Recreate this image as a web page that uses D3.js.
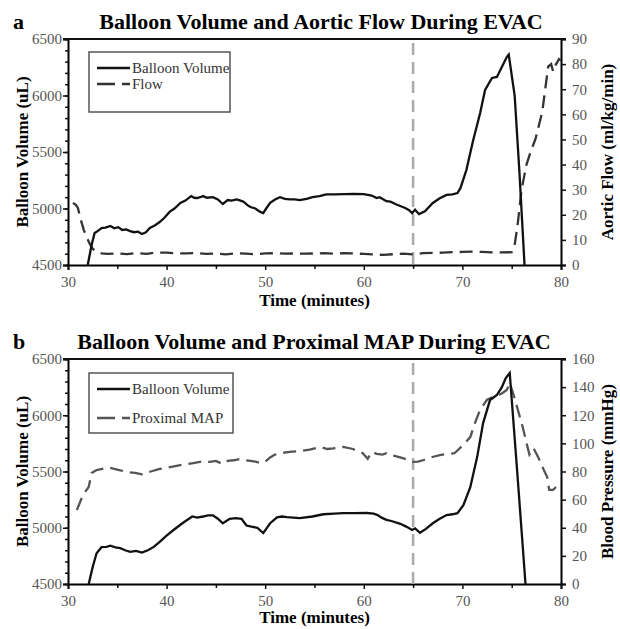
<!DOCTYPE html>
<html lang="en">
<head>
<meta charset="UTF-8">
<title>Balloon Volume during EVAC</title>
<script src="https://cdn.jsdelivr.net/npm/d3@7"></script>
<style>
	body { margin: 0; background: #fff; }
	svg { display: block; }
	svg text { font-family: "Liberation Serif", "Times New Roman", serif; }
</style>
</head>
<body>
<svg id="chart" width="620" height="629"></svg>
<script>
// panel a: balloon volume (uL)
var volATime = [32.0,32.4,32.7,33.0,33.4,33.8,34.3,34.7,35.1,35.5,35.9,36.3,36.7,37.1,37.5,37.9,38.3,38.8,39.3,39.8,40.3,40.8,41.4,41.9,42.5,42.8,43.1,43.4,43.7,44.1,44.7,45.2,45.7,46.2,46.6,47.1,47.5,47.8,48.2,48.5,49.0,49.5,49.8,50.1,50.5,51.0,51.5,52.0,52.5,53.0,53.5,54.2,54.8,55.5,56.2,57.0,58.0,59.0,60.0,60.8,61.3,61.6,62.0,62.3,62.7,63.2,63.7,64.2,64.6,64.9,65.2,65.6,66.2,67.0,67.7,68.4,69.0,69.5,69.8,70.4,71.1,71.8,72.3,73.0,73.5,74.0,74.5,74.7,75.3,75.8,76.3];
var volA     = [4500,4680,4783,4800,4827,4830,4845,4825,4835,4810,4815,4800,4790,4795,4774,4790,4827,4850,4880,4920,4970,5000,5050,5070,5110,5095,5093,5100,5110,5095,5100,5080,5040,5075,5070,5080,5070,5060,5030,5013,5000,4970,4960,5000,5050,5080,5100,5085,5080,5080,5075,5085,5100,5110,5125,5125,5128,5130,5128,5115,5093,5100,5080,5065,5060,5040,5022,5005,4985,4960,4990,4950,4975,5049,5090,5120,5125,5137,5180,5340,5606,5845,6049,6155,6164,6252,6340,6362,6000,5300,4500];

// panel a: aortic flow (ml/kg/min)
var flowTime = [30.5,30.8,31.0,31.3,31.6,31.9,32.2,32.5,32.9,33.4,34,35,36,37,38,39,40,41,42,43,44,45,46,47,48,49,50,51,52,53,54,55,56,57,58,59,60,61,62,63,64,65,66,67,68,69,70,71,72,73,74,75,75.3,75.6,76.0,76.5,77.0,77.4,78.1,78.7,79.0,79.2,79.5,79.8,80.0];
var flow     = [24.7,24,22.7,18,14,11,8.5,6.5,5.2,4.6,4.4,4.6,4.3,4.8,4.4,5.0,4.9,4.7,4.6,4.8,4.4,4.6,4.2,4.7,4.5,4.3,4.6,4.7,4.5,4.6,4.5,4.6,4.7,4.5,4.7,4.6,4.4,4.2,4.0,4.3,4.5,4.2,4.7,4.8,4.9,5.1,5.2,5.3,5.2,5.0,5.0,5.1,8,16,30,40,46,50,61,79,80,77,80,82,81.5];

// panel b: balloon volume (uL)
var volBTime = [32.1,32.5,32.9,33.4,33.9,34.3,34.8,35.3,35.8,36.3,36.9,37.5,38.1,38.7,39.3,40.0,40.7,41.6,42.6,43.1,43.7,44.2,44.7,45.2,45.7,46.4,47.0,47.6,48.1,48.6,49.2,49.8,50.5,51.2,51.7,52.2,53.5,54.8,55.9,57.0,57.9,59.0,60.3,61.0,61.4,61.8,62.3,62.8,63.7,64.3,64.9,65.2,65.7,66.3,67.0,67.7,68.4,69.0,69.5,70.1,70.8,71.5,72.1,72.8,73.5,74.0,74.4,74.8,75.6,76.4];
var volB     = [4500,4650,4773,4827,4830,4840,4825,4818,4800,4785,4795,4780,4800,4830,4875,4930,4980,5040,5100,5090,5100,5110,5110,5080,5040,5080,5085,5080,5020,5010,5000,4953,5040,5093,5100,5095,5085,5100,5120,5125,5130,5130,5131,5125,5113,5090,5070,5060,5035,5010,4980,4995,4955,4990,5040,5080,5113,5120,5130,5200,5360,5630,5930,6135,6180,6250,6330,6375,5450,4500];

// panel b: proximal MAP (mmHg)
var mapTime = [30.9,31.5,32.1,32.4,32.9,33.6,34.3,35.2,36.0,36.8,37.5,38.4,39.3,40.2,41.0,41.8,42.7,43.5,44.4,45.0,45.7,46.2,46.8,47.4,48.0,48.5,49.0,49.5,50.0,50.5,51.0,51.5,52.5,53.5,54.5,55.6,56.3,56.9,57.9,58.9,59.9,60.4,60.8,61.3,61.9,62.3,62.7,63.2,63.7,64.4,65.0,65.5,66.0,66.8,67.7,68.5,69.2,70.1,70.8,71.3,71.8,72.5,73.1,73.6,74.1,74.5,74.8,75.3,75.7,76.1,76.6,76.8,77.2,77.7,78.2,78.6,78.8,79.2,79.5];
var map     = [52.6,63,69,79,81,82,82.5,81,79.6,79,78,80,81.8,83,84,85,86,87,86.8,87.5,85.3,87.5,88,88.9,88,87.5,87,86,87,90,92,93,94,94.6,95.5,97.4,96,96.5,97.5,96,93,89,94,92.5,92,93,91.5,91,90,88.5,86.8,87,88,90,91.7,92.5,93,99,104.5,115,124,131,133,134,136,138,143,132,122,112,97.5,92,96.7,90,82,76,67,67,69];

var timeTicks = [30, 40, 50, 60, 70, 80];
var volTicks = [4500, 5000, 5500, 6000, 6500];
var flowTicks = [0, 10, 20, 30, 40, 50, 60, 70, 80, 90];
var mapTicks = [0, 20, 40, 60, 80, 100, 120, 140, 160];
var occlusionTime = 65;

var svg = d3.select("#chart");
var left = 68, right = 561;

var x = d3.scaleLinear().domain([30, 80]).range([left, right]);

function zip(ts, vs) {
	return ts.map(function(t, i) { return [t, vs[i]]; });
}

function drawPanel(p) {
	var g = svg.append("g");
	var yL = d3.scaleLinear().domain([4500, 6500]).range([p.bottom, p.top]);
	var yR = d3.scaleLinear().domain(p.rDomain).range([p.bottom, p.top]);

	// minor ticks
	g.append("g").attr("transform", "translate(" + left + ",0)")
		.call(d3.axisLeft(yL).tickValues(d3.range(4500, 6501, 100)).tickSize(3).tickFormat(""))
		.call(function(a) { a.select(".domain").remove(); });
	g.append("g").attr("transform", "translate(0," + p.bottom + ")")
		.call(d3.axisBottom(x).tickValues(d3.range(35, 80, 10)).tickSize(4).tickFormat(""))
		.call(function(a) { a.select(".domain").remove(); });

	var ax = [];
	ax.push(g.append("g").attr("transform", "translate(" + left + ",0)")
		.call(d3.axisLeft(yL).tickValues(volTicks).tickSize(5).tickPadding(1).tickFormat(d3.format("d"))));
	ax.push(g.append("g").attr("transform", "translate(" + right + ",0)")
		.call(d3.axisRight(yR).tickValues(p.rTicks).tickSize(5).tickPadding(6).tickFormat(d3.format("d"))));
	ax.push(g.append("g").attr("transform", "translate(0," + p.bottom + ")")
		.call(d3.axisBottom(x).tickValues(timeTicks).tickSize(5).tickPadding(6).tickFormat(d3.format("d"))));
	ax.forEach(function(a) {
		a.attr("font-family", null);
		a.selectAll("text").attr("font-size", 15).attr("fill", "#555");
		a.select(".domain").attr("stroke-width", 2);
	});
	g.selectAll(".tick line").attr("stroke", "#111").attr("stroke-width", 1.5);

	// frame top
	g.append("line").attr("x1", left - 5).attr("x2", right + 5)
		.attr("y1", p.top).attr("y2", p.top)
		.attr("stroke", "#111").attr("stroke-width", 2);

	// occlusion marker
	g.append("line").attr("x1", x(occlusionTime)).attr("x2", x(occlusionTime))
		.attr("y1", p.top + 4).attr("y2", p.bottom)
		.attr("stroke", "#aaa").attr("stroke-width", 2.5).attr("stroke-dasharray", "12,7");

	var lineL = d3.line().x(function(d) { return x(d[0]); }).y(function(d) { return yL(d[1]); });
	var lineR = d3.line().x(function(d) { return x(d[0]); }).y(function(d) { return yR(d[1]); });

	g.append("path").datum(zip(p.rTime, p.rVals)).attr("d", lineR)
		.attr("fill", "none").attr("stroke", p.rColor).attr("stroke-width", 2.3)
		.attr("stroke-dasharray", "13,7");
	g.append("path").datum(zip(p.vTime, p.vVals)).attr("d", lineL)
		.attr("fill", "none").attr("stroke", "#111").attr("stroke-width", 2.3);

	// titles
	g.append("text").attr("x", 13).attr("y", p.top - 10)
		.attr("font-size", 22).attr("font-weight", "bold").text(p.letter);
	g.append("text").attr("x", p.titleX).attr("y", p.top - 10).attr("text-anchor", "middle")
		.attr("font-size", 22).attr("font-weight", "bold").text(p.title);
	g.append("text").attr("x", (left + right) / 2).attr("y", p.bottom + p.timeDy).attr("text-anchor", "middle")
		.attr("font-size", 17).attr("font-weight", "bold").text("Time (minutes)");
	g.append("text").attr("transform", "translate(28," + (p.top + p.bottom) / 2 + ") rotate(-90)")
		.attr("text-anchor", "middle").attr("font-size", 17).attr("font-weight", "bold")
		.text("Balloon Volume (uL)");
	g.append("text").attr("transform", "translate(613," + (p.top + p.bottom) / 2 + ") rotate(-90)")
		.attr("text-anchor", "middle").attr("font-size", 17).attr("font-weight", "bold")
		.text(p.rLabel);

	// legend
	var lg = g.append("g");
	lg.append("rect").attr("x", 89).attr("y", p.legTop).attr("width", p.legW).attr("height", 60)
		.attr("fill", "#fff").attr("stroke", "#555").attr("stroke-width", 1.5);
	var rows = [
		{ name: "Balloon Volume", color: "#111", dash: null },
		{ name: p.rName, color: p.rColor, dash: "18,7" }
	];
	rows.forEach(function(r, i) {
		var yy = p.legTop + p.legRows[i];
		lg.append("line").attr("x1", 97).attr("x2", 130).attr("y1", yy).attr("y2", yy)
			.attr("stroke", r.color).attr("stroke-width", 2.3).attr("stroke-dasharray", r.dash);
		lg.append("text").attr("x", 132).attr("y", yy + 5).attr("font-size", 15)
			.attr("fill", "#333").text(r.name);
	});
}

drawPanel({
	top: 39, bottom: 265, letter: "a", titleX: 321, timeDy: 41,
	title: "Balloon Volume and Aortic Flow During EVAC",
	rDomain: [0, 90], rTicks: flowTicks, rLabel: "Aortic Flow (ml/kg/min)",
	rTime: flowTime, rVals: flow, rColor: "#333", rName: "Flow",
	vTime: volATime, vVals: volA,
	legTop: 52, legW: 141, legRows: [16, 32]
});

drawPanel({
	top: 359, bottom: 584, letter: "b", titleX: 314, timeDy: 39,
	title: "Balloon Volume and Proximal MAP During EVAC",
	rDomain: [0, 160], rTicks: mapTicks, rLabel: "Blood Pressure (mmHg)",
	rTime: mapTime, rVals: map, rColor: "#555", rName: "Proximal MAP",
	vTime: volBTime, vVals: volB,
	legTop: 373, legW: 144, legRows: [16, 45]
});
</script>
</body>
</html>
